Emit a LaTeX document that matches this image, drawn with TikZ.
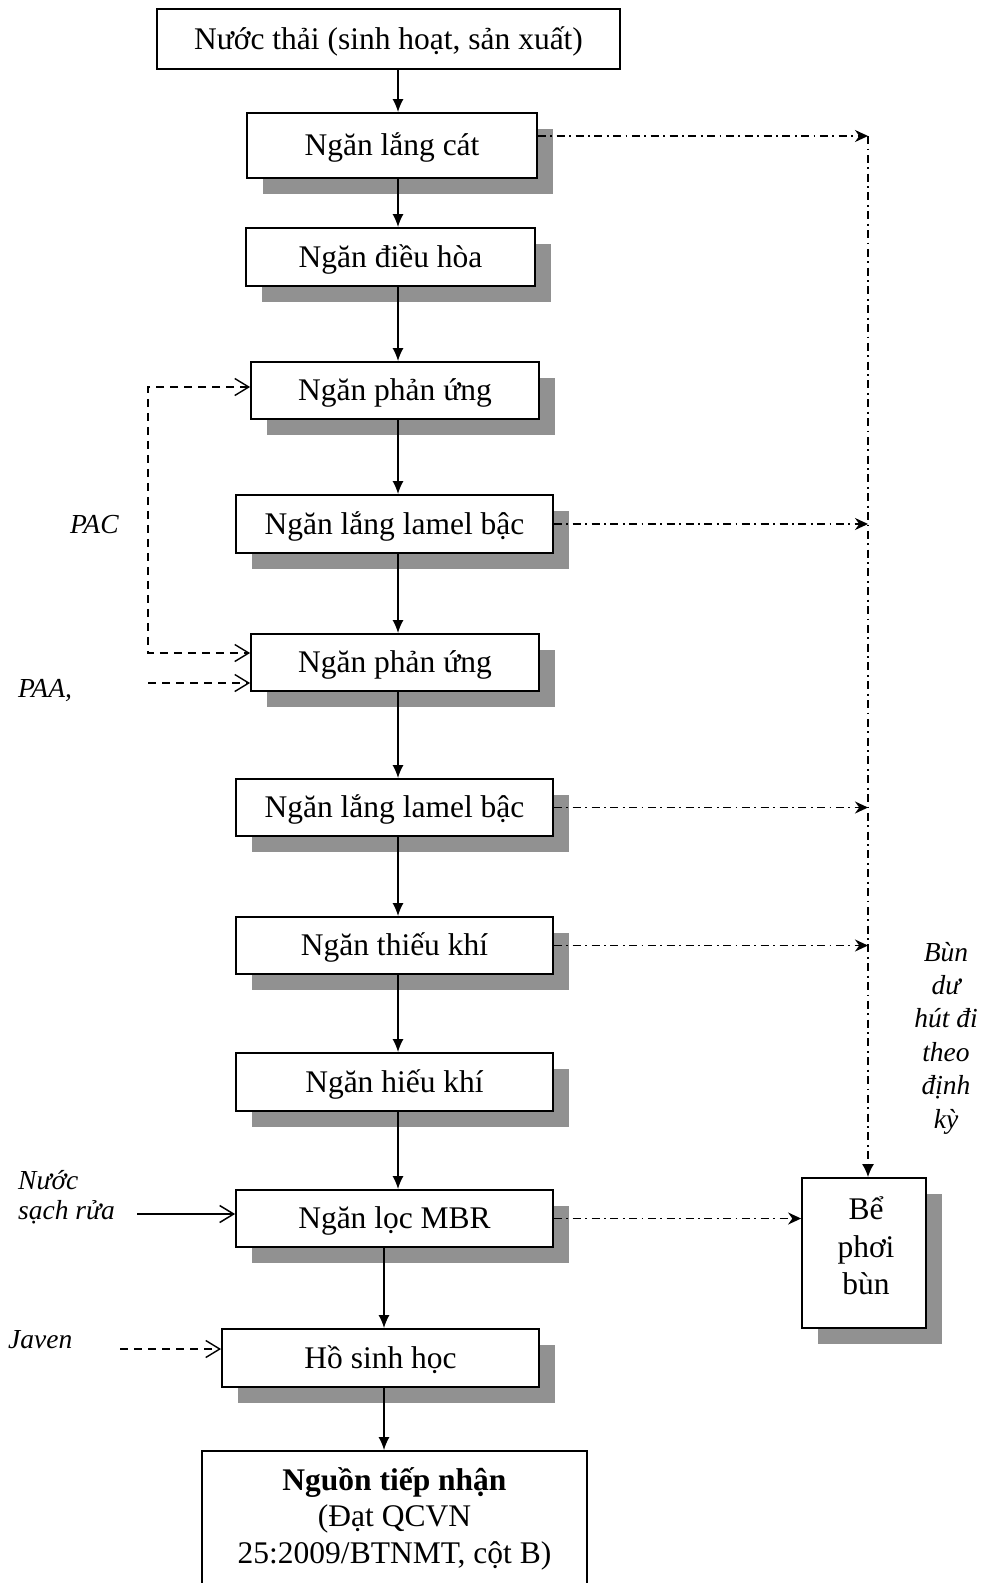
\documentclass[tikz,border=0pt]{standalone}
\usepackage{fontspec}
\setmainfont{Liberation Serif}
\usetikzlibrary{arrows.meta,shadows,calc}
\definecolor{shgray}{RGB}{145,145,145}
\begin{document}
\begin{tikzpicture}[x=1pt,y=-1pt,
  >={Straight Barb[length=14pt,width=17pt]},
  box/.style={draw, line width=1.8pt, fill=white, inner sep=0pt,
    font=\fontsize{31.5}{36}\selectfont, text height=28.4pt, text depth=7.5pt},
  shbox/.style={box, drop shadow={shadow xshift=16pt,shadow yshift=-16pt,fill=shgray,opacity=1}},
  arr/.style={line width=1.5pt,-{Latex[length=13pt,width=11pt]}},
  dd/.style={line width=1.7pt, dash pattern=on 8pt off 4.5pt on 1.8pt off 4.5pt},
  ddarr/.style={dd,-{Stealth[length=13pt,width=12pt]}},
  dsh/.style={line width=1.4pt, dash pattern=on 8pt off 6pt},
  lbl/.style={font=\fontsize{27.5}{33.4}\selectfont\itshape, inner sep=0pt}]
\useasboundingbox (0,0) rectangle (989,1583);
\clip (0,0) rectangle (989,1583);
\fill[white] (0,0) rectangle (989,1583);

\node[box, minimum width=463pt, minimum height=60pt] (top) at (388.5,39) {Nước thải (sinh hoạt, sản xuất)};
\node[shbox, minimum width=290pt, minimum height=65pt] (b1) at (392,145.5) {Ngăn lắng cát};
\node[shbox, minimum width=289pt, minimum height=58pt] (b2) at (390.5,257) {Ngăn điều hòa};
\node[shbox, minimum width=288pt, minimum height=57pt] (b3) at (395,390.5) {Ngăn phản ứng};
\node[shbox, minimum width=317pt, minimum height=58pt] (b4) at (394.5,524) {Ngăn lắng lamel bậc};
\node[shbox, minimum width=288pt, minimum height=57pt] (b5) at (395,662.5) {Ngăn phản ứng};
\node[shbox, minimum width=317pt, minimum height=57pt] (b6) at (394.5,807.5) {Ngăn lắng lamel bậc};
\node[shbox, minimum width=317pt, minimum height=57pt] (b7) at (394.5,945.5) {Ngăn thiếu khí};
\node[shbox, minimum width=317pt, minimum height=58pt] (b8) at (394.5,1082) {Ngăn hiếu khí};
\node[shbox, minimum width=317pt, minimum height=57pt] (b9) at (394.5,1218.5) {Ngăn lọc MBR};
\node[shbox, minimum width=317pt, minimum height=58pt] (b10) at (380.5,1358) {Hồ sinh học};
\node[draw, line width=1.8pt, fill=white, inner sep=0pt, align=center,
  font=\fontsize{31.5}{36.5}\selectfont, minimum width=385pt, minimum height=135pt] (b11) at (394.5,1518.5)
  {\textbf{Nguồn tiếp nhận}\\(Đạt QCVN\\25:2009/BTNMT, cột B)};
\node[shbox, minimum width=124pt, minimum height=150pt] (b12) at (864,1253) {};
\node[inner sep=0pt, align=center, font=\fontsize{31.5}{37.5}\selectfont] (b12t) at (866,1246) {Bể\\phơi\\bùn};

\node[lbl, anchor=base west] (pac) at (70,533) {PAC};
\node[lbl, anchor=base west] (paa) at (18,697) {PAA,};
\node[lbl, anchor=base west] (jav) at (8,1348) {Javen};
\node[lbl, anchor=west, align=left, font=\fontsize{27.5}{30}\selectfont\itshape] (nsr) at (18,1197) {Nước\\sạch rửa};
\node[lbl, align=center] (bun) at (946,1038) {Bùn\\dư\\hút đi\\theo\\định\\kỳ};

\coordinate (ax) at (398,0);
\coordinate (bx) at (384,0);
\draw[arr] (top.south -| ax) -- (b1.north -| ax);
\draw[arr] (b1.south -| ax) -- (b2.north -| ax);
\draw[arr] (b2.south -| ax) -- (b3.north -| ax);
\draw[arr] (b3.south -| ax) -- (b4.north -| ax);
\draw[arr] (b4.south -| ax) -- (b5.north -| ax);
\draw[arr] (b5.south -| ax) -- (b6.north -| ax);
\draw[arr] (b6.south -| ax) -- (b7.north -| ax);
\draw[arr] (b7.south -| ax) -- (b8.north -| ax);
\draw[arr] (b8.south -| ax) -- (b9.north -| ax);
\draw[arr] (b9.south -| bx) -- (b10.north -| bx);
\draw[arr] (b10.south -| bx) -- (b11.north -| bx);

\coordinate (rv) at (868,136);
\draw[ddarr] (b1.east |- rv) -- (rv);
\draw[ddarr] (b4.east) -- (b4.east -| rv);
\draw[ddarr] (b6.east) -- (b6.east -| rv);
\draw[ddarr] (b7.east) -- (b7.east -| rv);
\draw[ddarr] (b9.east) -- (b9.east -| b12.west);
\draw[dd,-{Latex[length=13pt,width=12pt]}] (rv) -- (rv |- b12.north);

\coordinate (pc1) at (148,387);
\coordinate (pc2) at (148,653);
\coordinate (pa) at (148,683);
\coordinate (jv) at (120,1349);
\coordinate (ns) at (137,1214);
\draw[dsh,<->] (pc1 -| b3.west) -- (pc1) -- (pc2) -- (pc2 -| b5.west);
\draw[dsh,->] (pa) -- (pa -| b5.west);
\draw[dsh,->] (jv) -- (jv -| b10.west);
\draw[line width=1.5pt,->] (ns) -- (ns -| b9.west);
\end{tikzpicture}
\end{document}
